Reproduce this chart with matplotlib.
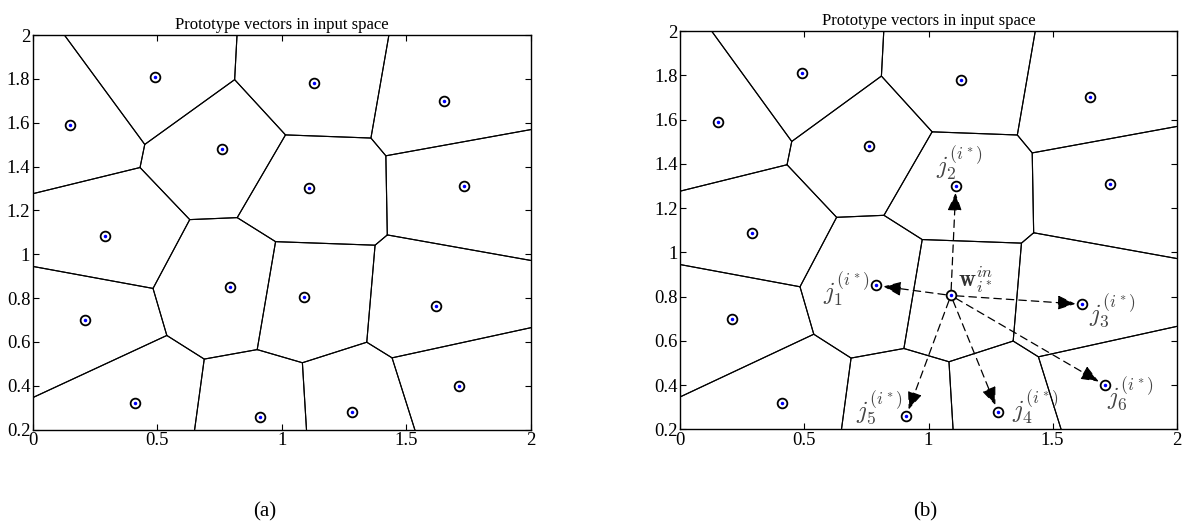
import numpy as np
import matplotlib
matplotlib.use("Agg")
import matplotlib.pyplot as plt

plt.rcParams['font.family'] = ['Liberation Serif', 'DejaVu Serif']
plt.rcParams['mathtext.fontset'] = 'cm'

# prototype vectors
proto_x = [0.15, 0.49, 1.13, 1.65, 0.76, 1.11, 1.73, 0.29, 0.79, 1.09, 0.21, 1.62, 0.41, 0.91, 1.28, 1.71]
proto_y = [1.59, 1.81, 1.78, 1.70, 1.48, 1.30, 1.31, 1.085, 0.85, 0.805, 0.70, 0.765, 0.32, 0.26, 0.28, 0.40]

# winner and its neighbours for panel (b)
winner = 9
neighbours = [8, 5, 11, 14, 13, 15]   # j1 .. j6
nb_labels = [r'$j_1^{(i^*)}$', r'$j_2^{(i^*)}$', r'$j_3^{(i^*)}$',
             r'$j_4^{(i^*)}$', r'$j_5^{(i^*)}$', r'$j_6^{(i^*)}$']
nb_text_x = [0.765, 1.125, 1.645, 1.335, 0.895, 1.72]
nb_text_y = [0.83, 1.40, 0.735, 0.295, 0.295, 0.36]
nb_ha = ['right', 'center', 'left', 'left', 'right', 'left']


def clip(poly, a, b, c):
    # keep part of polygon with a*x + b*y <= c
    out = []
    n = len(poly)
    for k in range(n):
        p = poly[k]
        q = poly[(k + 1) % n]
        fp = a * p[0] + b * p[1] - c
        fq = a * q[0] + b * q[1] - c
        if fp <= 0:
            out.append(p)
        if fp * fq < 0:
            t = fp / (fp - fq)
            out.append((p[0] + t * (q[0] - p[0]), p[1] + t * (q[1] - p[1])))
    return out


def voronoi_cells(xs, ys):
    cells = []
    for i in range(len(xs)):
        poly = [(-2, -2), (4, -2), (4, 4), (-2, 4)]
        for j in range(len(xs)):
            if i == j:
                continue
            a = xs[j] - xs[i]
            b = ys[j] - ys[i]
            c = (xs[j]**2 + ys[j]**2 - xs[i]**2 - ys[i]**2) / 2.0
            poly = clip(poly, a, b, c)
        cells.append(poly)
    return cells


cells = voronoi_cells(proto_x, proto_y)


def draw_panel(ax):
    for poly in cells:
        px = [p[0] for p in poly] + [poly[0][0]]
        py = [p[1] for p in poly] + [poly[0][1]]
        ax.plot(px, py, color='k', lw=0.8)
    ax.plot(proto_x, proto_y, 'o', mfc='none', mec='k', ms=7, mew=1.3, zorder=5)
    ax.plot(proto_x, proto_y, '.', color='b', ms=3, zorder=6)
    ax.set_xlim(0, 2)
    ax.set_ylim(0.2, 2)
    ax.set_xticks([0, 0.5, 1, 1.5, 2])
    ax.set_xticklabels(['0', '0.5', '1', '1.5', '2'])
    ax.set_yticks([0.2, 0.4, 0.6, 0.8, 1, 1.2, 1.4, 1.6, 1.8, 2])
    ax.set_yticklabels(['0.2', '0.4', '0.6', '0.8', '1', '1.2', '1.4', '1.6', '1.8', '2'])
    ax.tick_params(direction='in', top=True, right=True, length=4, labelsize=13.5, pad=2)
    for s in ax.spines.values():
        s.set_linewidth(1.0)
    ax.set_title('Prototype vectors in input space', fontsize=12, pad=4)


fig = plt.figure(figsize=(11.89, 5.32), dpi=100)
ax1 = fig.add_axes([0.0278, 0.1923, 0.4186, 0.7419])
ax2 = fig.add_axes([0.5722, 0.1930, 0.4175, 0.7487])

draw_panel(ax1)
draw_panel(ax2)

wx, wy = proto_x[winner], proto_y[winner]
for k, idx in enumerate(neighbours):
    ax2.annotate('', xy=(proto_x[idx], proto_y[idx]), xytext=(wx, wy),
                 arrowprops=dict(arrowstyle='-|>,head_length=0.55,head_width=0.22',
                                 linestyle=(0, (6, 4)), color='k',
                                 lw=0.9, mutation_scale=20, shrinkA=4, shrinkB=5),
                 zorder=4)
    ax2.text(nb_text_x[k], nb_text_y[k], nb_labels[k], ha=nb_ha[k], va='center',
             fontsize=18, color='#444444')
ax2.text(1.12, 0.875, r'$\mathbf{w}_{i^*}^{in}$', ha='left', va='center',
         fontsize=17, color='#333333')

fig.text(265 / 1189, 1 - 512 / 532, '(a)', ha='center', va='center', fontsize=15)
fig.text(925 / 1189, 1 - 512 / 532, '(b)', ha='center', va='center', fontsize=15)

fig.savefig('out.png', dpi=100)
